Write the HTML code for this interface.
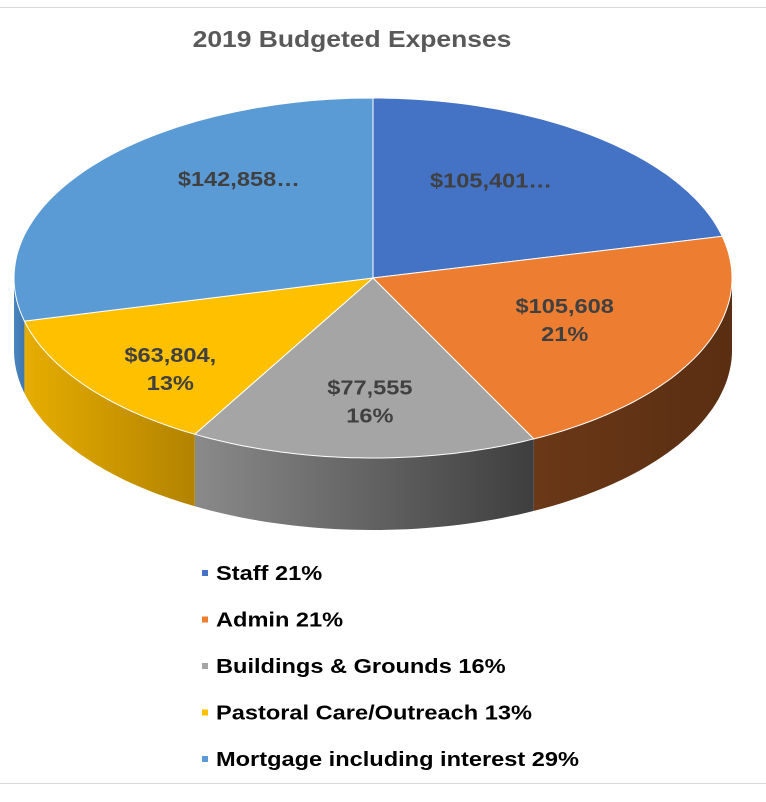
<!DOCTYPE html>
<html><head><meta charset="utf-8"><style>
body{margin:0;background:#fff;}
svg{display:block;font-family:"Liberation Sans",Arial,sans-serif;}
</style></head><body>
<svg id="chart" width="766" height="802">
<defs>
<linearGradient id="g-admin" x1="0" x2="1"><stop offset="0" stop-color="#6a3817"/><stop offset="1" stop-color="#5a2e12"/></linearGradient>
<linearGradient id="g-build" x1="0" x2="1"><stop offset="0" stop-color="#8a8a8a"/><stop offset="1" stop-color="#3e3e3e"/></linearGradient>
<linearGradient id="g-past" x1="0" x2="1"><stop offset="0" stop-color="#e6ad00"/><stop offset="1" stop-color="#b38300"/></linearGradient>
<linearGradient id="g-staff" x1="0" x2="1"><stop offset="0" stop-color="#2f5597"/><stop offset="1" stop-color="#2f5597"/></linearGradient>
<linearGradient id="g-mort" x1="0" x2="1"><stop offset="0" stop-color="#4a86c0"/><stop offset="1" stop-color="#3f77ad"/></linearGradient>
</defs>
<line x1="0" y1="7.5" x2="766" y2="7.5" stroke="#d9d9d9"/>
<line x1="0" y1="783.5" x2="766" y2="783.5" stroke="#d9d9d9"/>
<text transform="translate(352,47) scale(1.15,1)" text-anchor="middle" font-size="23" font-weight="bold" fill="#595959">2019 Budgeted Expenses</text>
<g id="sides"></g><g id="tops"></g><g id="labels"></g><g id="legend"></g>
</svg>
<script>
const categories=["Staff","Admin","Buildings & Grounds","Pastoral Care/Outreach","Mortgage including interest"];
const values=[105401,105608,77555,63804,142858];
const legendPct=["21%","21%","16%","13%","29%"];
const labelLines=[["$105,401…"],["$105,608","21%"],["$77,555","16%"],["$63,804,","13%"],["$142,858…"]];
const colors=["#4472c4","#ed7d31","#a5a5a5","#ffc000","#5b9bd5"];
const sideFills=["url(#g-staff)","url(#g-admin)","url(#g-build)","url(#g-past)","url(#g-mort)"];
const labelNudge=[[-20,-10],[-10,-5],[3,12],[-25,24],[41,-30]];
const cx=373,cy=278,rx=359,ry=180,depth=72;
const NS="http://www.w3.org/2000/svg";
function pt(a,dy){const r=a*Math.PI/180;return [cx+rx*Math.sin(r),cy-ry*Math.cos(r)+(dy||0)];}
function arc(a0,a1,dy,n){let s="";for(let i=0;i<=n;i++){const p=pt(a0+(a1-a0)*i/n,dy);s+=(i?"L":"")+p[0].toFixed(1)+","+p[1].toFixed(1);}return s;}
const total=values.reduce((a,b)=>a+b,0);
let acc=0;const angles=values.map(v=>{const a0=acc/total*360;acc+=v;return [a0,acc/total*360];});
const sides=document.getElementById("sides"),tops=document.getElementById("tops"),labels=document.getElementById("labels"),legend=document.getElementById("legend");
angles.forEach(([a0,a1],i)=>{
  const s0=Math.max(a0,90),s1=Math.min(a1,270);
  if(s1>s0){const p=document.createElementNS(NS,"path");
    const back="L"+arc(s1,s0,depth,40);
    p.setAttribute("d","M"+arc(s0,s1,0,40)+back+"Z");
    p.setAttribute("fill",sideFills[i]);
    
    
    sides.appendChild(p);}
  const t=document.createElementNS(NS,"path");
  t.setAttribute("d","M"+cx+","+cy+"L"+arc(a0,a1,0,60)+"Z");
  t.setAttribute("fill",colors[i]);t.setAttribute("stroke","#fff");t.setAttribute("stroke-width","1");
  
  
  tops.appendChild(t);
  const mid=(a0+a1)/2;
  const lp=[cx+rx*0.62*Math.sin(mid*Math.PI/180)+labelNudge[i][0],cy-ry*0.62*Math.cos(mid*Math.PI/180)+labelNudge[i][1]];
  const lines=labelLines[i];
  lines.forEach((ln,k)=>{const tx=document.createElementNS(NS,"text");
    const yy=lp[1]+7-(lines.length-1)*14+k*28;
    tx.setAttribute("transform","translate("+lp[0].toFixed(1)+","+yy.toFixed(1)+") scale(1.18,1)");
    tx.setAttribute("text-anchor","middle");tx.setAttribute("font-size","20");tx.setAttribute("font-weight","bold");tx.setAttribute("fill","#404040");
    tx.textContent=ln;
    
    
    labels.appendChild(tx);});
  const g=document.createElementNS(NS,"g");
  
  
  const y=573+i*46.5;
  const r=document.createElementNS(NS,"rect");
  r.setAttribute("x",202);r.setAttribute("y",y-3);r.setAttribute("width",6);r.setAttribute("height",6);r.setAttribute("fill",colors[i]);
  const lt=document.createElementNS(NS,"text");
  lt.setAttribute("transform","translate(216,"+(y+7)+") scale(1.18,1)");
  lt.setAttribute("font-size","20");lt.setAttribute("font-weight","bold");lt.setAttribute("fill","#000");
  lt.textContent=categories[i]+" "+legendPct[i];
  g.appendChild(r);g.appendChild(lt);legend.appendChild(g);
});
</script>
</body></html>
